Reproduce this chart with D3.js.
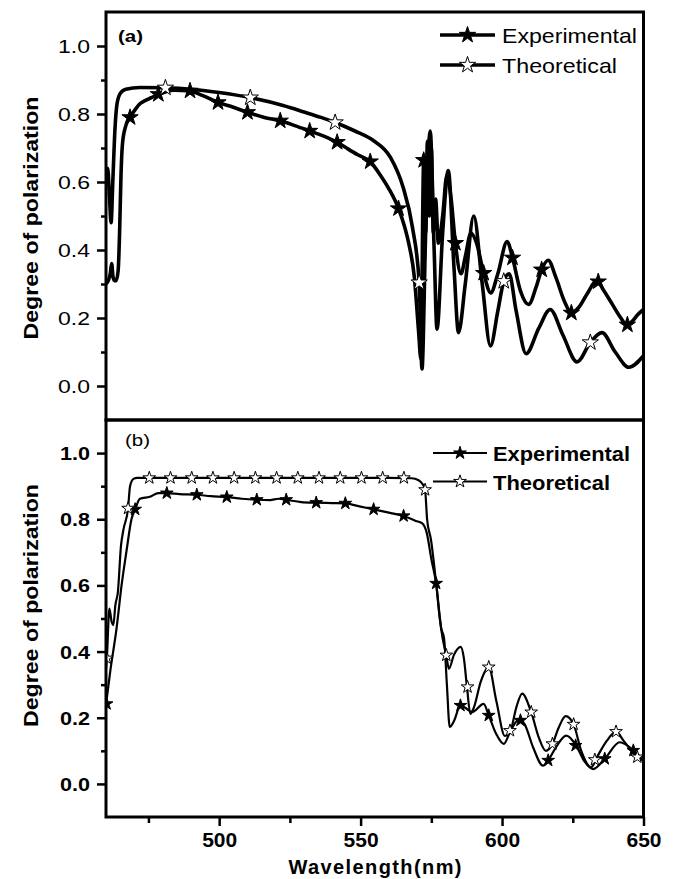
<!DOCTYPE html>
<html><head><meta charset="utf-8">
<script src="https://cdn.jsdelivr.net/npm/d3@7"></script>
<style>body{margin:0;background:#fff}svg{display:block}text{font-family:"Liberation Sans",Arial,sans-serif;fill:#000}</style>
</head><body><svg id="c" width="682" height="879"></svg>
<script>
// ---------- DATA ----------
// Panel (a) experimental
const expAWave = [460.0,460.8,461.5,462.0,462.5,463.0,463.6,464.3,464.8,465.3,465.8,466.8,468.5,470.5,472.0,474.0,476.0,478.5,481.0,484.0,489.7,494.0,499.6,505,510,516,521.6,527,532,537,541.7,545,549,553.4,557,560,563.4,565.5,567,569,570.5,571.3,572.3,573.0,573.6,574.3,575.0,575.7,576.5,577.5,579,580.5,582,583.5,585.5,587,589,591,593.5,596,598.5,601.8,603.7,606.5,609.4,612,614,616.3,619,622,624.5,627,630,633.5,636,639,642,644,646,648,650];
const expAVal  = [0.30,0.31,0.33,0.36,0.32,0.31,0.31,0.34,0.45,0.62,0.71,0.76,0.79,0.815,0.83,0.84,0.848,0.858,0.865,0.87,0.868,0.855,0.834,0.82,0.805,0.79,0.78,0.765,0.75,0.735,0.717,0.70,0.68,0.66,0.62,0.58,0.522,0.47,0.42,0.32,0.16,0.08,0.664,0.45,0.72,0.50,0.70,0.45,0.55,0.42,0.50,0.62,0.55,0.42,0.33,0.38,0.45,0.42,0.332,0.274,0.33,0.425,0.377,0.28,0.24,0.29,0.342,0.37,0.32,0.25,0.215,0.23,0.27,0.31,0.28,0.24,0.20,0.18,0.19,0.21,0.225];
const expAMarkWave = [468.5,478.5,489.7,499.6,510,521.6,532,541.7,553.4,563.4,572.3,583.5,593.5,603.7,614,624.5,634,644.3];
const expAMarkVal  = [0.79,0.858,0.868,0.834,0.805,0.78,0.75,0.717,0.66,0.522,0.664,0.42,0.332,0.377,0.342,0.215,0.307,0.18];
// Panel (a) theoretical
const theoAWave = [460.0,460.6,461.2,461.8,462.4,463.2,463.9,465.0,467.0,472.0,481.0,490.0,500.0,511.0,522.6,530.0,536.0,541.0,548.0,554.5,560.5,565.0,568.3,570.7,571.7,573.0,574.6,576.0,577.0,579.0,581.0,583.0,584.6,587.0,590.0,593.0,595.9,598.5,600.6,602.5,605.0,608.5,613.0,617.0,621.5,626.5,631.2,635.3,640.0,644.8,650.0];
const theoAVal  = [0.60,0.64,0.56,0.48,0.60,0.76,0.83,0.86,0.873,0.878,0.877,0.873,0.863,0.848,0.825,0.806,0.79,0.775,0.75,0.722,0.673,0.585,0.468,0.304,0.05,0.45,0.75,0.40,0.167,0.45,0.634,0.35,0.157,0.30,0.50,0.30,0.118,0.22,0.308,0.33,0.22,0.095,0.17,0.225,0.15,0.071,0.128,0.157,0.10,0.055,0.089];
const theoAMarkWave = [481,511,541,570.7,600.6,631.2];
const theoAMarkVal  = [0.877,0.848,0.775,0.304,0.308,0.128];
// Panel (b) experimental
const expBWave = [460.0,461.5,463.8,465.5,467.3,469.0,470.3,472.0,475.5,478.5,481.5,486.0,492.1,497.0,502.7,508.0,513.3,518.0,521.0,523.7,529.0,534.3,540.0,544.6,550.0,554.6,560.0,565.2,569.5,571.7,573.4,575.0,576.7,578.5,579.5,580.5,581.5,583.0,585.3,587.0,589.4,593.5,595.3,598.0,600.6,603.0,606.0,608.0,611.0,614.5,616.3,619.0,622.7,626.2,629.0,632.2,636.3,641.6,646.5,650.0];
const expBVal  = [0.24,0.34,0.475,0.60,0.707,0.80,0.83,0.862,0.868,0.879,0.879,0.876,0.874,0.870,0.867,0.862,0.859,0.858,0.862,0.859,0.852,0.85,0.849,0.848,0.838,0.83,0.82,0.81,0.795,0.788,0.758,0.68,0.606,0.47,0.44,0.30,0.172,0.19,0.237,0.23,0.217,0.242,0.207,0.15,0.121,0.16,0.195,0.18,0.11,0.055,0.071,0.11,0.146,0.116,0.07,0.045,0.076,0.126,0.101,0.07];
const expBMarkWave = [460.2,470.3,481.5,492.1,502.7,513.3,523.7,534.3,544.6,554.6,565.2,576.7,585.3,595.3,606.5,616.3,626.0,636.3,646.4];
const expBMarkVal  = [0.242,0.83,0.879,0.874,0.867,0.859,0.859,0.85,0.848,0.83,0.81,0.606,0.237,0.207,0.192,0.071,0.116,0.076,0.101];
// Panel (b) theoretical
const theoBWave = [460.0,460.3,461.2,462.0,462.6,463.3,464.2,465.3,466.2,467.8,468.5,469.7,471.0,480.0,500.0,520.0,540.0,560.0,568.0,570.5,572.0,572.8,573.5,574.9,576.7,578.0,579.0,580.3,581.2,583.0,585.4,586.5,587.6,588.8,590.0,592.5,595.3,598.0,601.0,603.0,605.0,607.1,610.3,613.0,615.5,617.8,620.0,622.5,625.3,628.0,631.5,633.5,637.0,640.3,643.0,647.8,650.0];
const theoBVal  = [0.35,0.38,0.53,0.49,0.48,0.54,0.58,0.72,0.77,0.833,0.90,0.922,0.925,0.925,0.925,0.925,0.925,0.925,0.924,0.918,0.905,0.889,0.80,0.737,0.606,0.50,0.44,0.389,0.348,0.39,0.414,0.38,0.293,0.212,0.23,0.31,0.353,0.25,0.145,0.161,0.23,0.273,0.217,0.14,0.10,0.121,0.17,0.205,0.18,0.10,0.05,0.08,0.13,0.158,0.13,0.081,0.07];
const theoBMarkWave = [460.3,467.8,475.3,482.8,490.3,497.8,505.3,512.8,520.3,527.8,535.3,542.8,550.3,557.8,565.3,572.8,580.3,587.8,595.3,602.8,610.3,617.8,625.3,632.8,640.3,647.8];
const theoBMarkVal  = [0.38,0.833,0.925,0.925,0.925,0.925,0.925,0.925,0.925,0.925,0.925,0.925,0.925,0.925,0.925,0.889,0.389,0.293,0.353,0.161,0.217,0.121,0.18,0.073,0.158,0.081];
// Axes
const yMajor = [0.0,0.2,0.4,0.6,0.8,1.0];
const yMinor = [0.1,0.3,0.5,0.7,0.9];
const xMajor = [500,550,600,650];
const xMinor = [475,525,575,625];
const legendLabels = ["Experimental","Theoretical"];
const yTitle = "Degree of polarization";
const xTitle = "Wavelength(nm)";

// ---------- DRAW ----------
const svg = d3.select("#c");
const L = 106, R = 643.5;
const x = d3.scaleLinear().domain([460,650]).range([L,R]);
const zip = (w,v)=>w.map((d,i)=>[d,v[i]]);

function panel(id, top, bottom, cfg){
  const y = d3.scaleLinear().domain([-0.1,1.1]).range([bottom,top]);
  const g = svg.append("g");
  g.append("clipPath").attr("id","clip"+id).append("rect")
    .attr("x",L).attr("y",top).attr("width",R-L).attr("height",bottom-top);
  const plot = g.append("g").attr("clip-path",`url(#clip${id})`);
  const line = d3.line().x(d=>x(d[0])).y(d=>y(d[1])).curve(d3.curveMonotoneX);
  plot.append("path").datum(zip(cfg.theoW,cfg.theoV)).attr("d",line)
    .attr("fill","none").attr("stroke","#000").attr("stroke-width",cfg.lw).attr("stroke-linejoin","round");
  plot.append("path").datum(zip(cfg.expW,cfg.expV)).attr("d",line)
    .attr("fill","none").attr("stroke","#000").attr("stroke-width",cfg.lw).attr("stroke-linejoin","round");
  const star = d3.symbol().type(d3.symbolStar).size(cfg.starSize);
  plot.selectAll(null).data(zip(cfg.expMW,cfg.expMV)).enter().append("path")
    .attr("d",star).attr("transform",d=>`translate(${x(d[0])},${y(d[1])})`)
    .attr("fill","#000").attr("stroke","#000").attr("stroke-width",1);
  plot.selectAll(null).data(zip(cfg.theoMW,cfg.theoMV)).enter().append("path")
    .attr("d",star).attr("transform",d=>`translate(${x(d[0])},${y(d[1])})`)
    .attr("fill","#fff").attr("stroke","#000").attr("stroke-width",1);

  // y axis
  const ya = g.append("g").attr("transform",`translate(${L},0)`)
    .call(d3.axisLeft(y).tickValues(yMajor).tickSize(9).tickFormat(d3.format(".1f")));
  ya.select(".domain").remove();
  ya.selectAll("line").attr("stroke-width",2.5);
  ya.selectAll("text").attr("x",-16).attr("dy","0.36em")
    .attr("font-size",18).attr("font-weight",cfg.bold?"bold":"normal")
    .attr("font-family","Liberation Sans, Arial, sans-serif")
    .attr("textLength",cfg.yLabW).attr("lengthAdjust","spacingAndGlyphs");
  const ym = g.append("g").attr("transform",`translate(${L},0)`)
    .call(d3.axisLeft(y).tickValues(yMinor).tickSize(5).tickFormat(""));
  ym.select(".domain").remove();
  ym.selectAll("line").attr("stroke-width",2.5);

  // frame
  g.append("rect").attr("x",L).attr("y",top).attr("width",R-L).attr("height",bottom-top)
    .attr("fill","none").attr("stroke","#000").attr("stroke-width",3);

  // y title
  g.append("text").attr("transform",`translate(38,${(y(1.0)+y(0.0))/2 + cfg.titleShift}) rotate(-90)`)
    .attr("text-anchor","middle").attr("font-size",20).attr("font-weight","bold")
    .attr("textLength",243).attr("lengthAdjust","spacingAndGlyphs").text(yTitle);

  // panel letter
  g.append("text").attr("x",cfg.letterX).attr("y",cfg.letterY).attr("font-size",16)
    .attr("font-weight",cfg.letterBold?"bold":"normal")
    .attr("textLength",25).attr("lengthAdjust","spacingAndGlyphs").text(cfg.letter);

  // legend
  const lg = g.append("g");
  legendLabels.forEach((lab,i)=>{
    const ly = cfg.legY[i];
    lg.append("line").attr("x1",cfg.legX1).attr("x2",cfg.legX2).attr("y1",ly).attr("y2",ly)
      .attr("stroke","#000").attr("stroke-width",cfg.lw);
    lg.append("path").attr("d",star).attr("transform",`translate(${(cfg.legX1+cfg.legX2)/2},${ly})`)
      .attr("fill",i===0?"#000":"#fff").attr("stroke","#000").attr("stroke-width",1);
    lg.append("text").attr("x",cfg.legTX).attr("y",cfg.legTY[i]).attr("font-size",21)
      .attr("font-weight",cfg.bold?"bold":"normal")
      .attr("textLength",cfg.legTW[i]).attr("lengthAdjust","spacingAndGlyphs").text(lab);
  });
  return {y,g};
}

panel("a", 12, 420, {
  expW:expAWave, expV:expAVal, theoW:theoAWave, theoV:theoAVal,
  expMW:expAMarkWave, expMV:expAMarkVal, theoMW:theoAMarkWave, theoMV:theoAMarkVal,
  lw:3.6, starSize:82, bold:false, yLabW:32, titleShift:2,
  letter:"(a)", letterX:118, letterY:42, letterBold:true,
  legX1:440, legX2:495, legY:[35,65], legTX:502, legTY:[43,72.5], legTW:[135,115]
});
panel("b", 420, 817, {
  expW:expBWave, expV:expBVal, theoW:theoBWave, theoV:theoBVal,
  expMW:expBMarkWave, expMV:expBMarkVal, theoMW:theoBMarkWave, theoMV:theoBMarkVal,
  lw:2.2, starSize:50, bold:true, yLabW:30, titleShift:-13,
  letter:"(b)", letterX:125, letterY:446, letterBold:false,
  legX1:433, legX2:487, legY:[453,481.5], legTX:493, legTY:[461,489.5], legTW:[137,117]
});

// x axis (bottom of panel b)
const xa = svg.append("g").attr("transform","translate(0,817)")
  .call(d3.axisBottom(x).tickValues(xMajor).tickSize(9).tickFormat(d3.format("d")));
xa.select(".domain").remove();
xa.selectAll("line").attr("stroke-width",2.5);
xa.selectAll("text").attr("y",15).attr("dy","0.71em").attr("font-size",21).attr("font-weight","bold")
  .attr("font-family","Liberation Sans, Arial, sans-serif");
const xm = svg.append("g").attr("transform","translate(0,817)")
  .call(d3.axisBottom(x).tickValues(xMinor).tickSize(6).tickFormat(""));
xm.select(".domain").remove();
xm.selectAll("line").attr("stroke-width",2.5);

svg.append("text").attr("x",375).attr("y",874).attr("text-anchor","middle")
  .attr("font-size",20).attr("font-weight","bold")
  .attr("textLength",173).attr("lengthAdjust","spacing").text(xTitle);
</script></body></html>
